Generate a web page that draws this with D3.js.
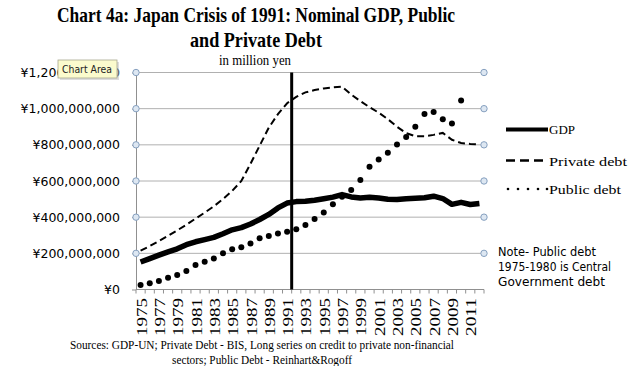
<!DOCTYPE html>
<html><head><meta charset="utf-8">
<script src="https://cdn.jsdelivr.net/npm/d3@7"></script>
<style>body{margin:0;background:#fff}svg{display:block}</style>
</head><body>
<svg id="c" width="641" height="366"></svg>
<script>
// ---- data (values in million yen) ----
const years = [1975,1976,1977,1978,1979,1980,1981,1982,1983,1984,1985,1986,1987,1988,1989,1990,1991,1992,1993,1994,1995,1996,1997,1998,1999,2000,2001,2002,2003,2004,2005,2006,2007,2008,2009,2010,2011,2012];
const gdp = [152e6,171e6,190e6,208e6,225e6,248e6,264e6,276e6,288e6,308e6,330e6,342e6,362e6,387e6,415e6,451e6,478e6,486e6,488e6,494e6,502e6,511e6,525e6,512e6,506e6,510e6,506e6,499e6,498e6,502e6,504e6,507e6,516e6,503e6,471e6,482e6,470e6,476e6];
const privateDebt = [215e6,240e6,268e6,297e6,327e6,358e6,392e6,425e6,460e6,500e6,545e6,600e6,695e6,795e6,895e6,970e6,1030e6,1065e6,1090e6,1103e6,1112e6,1118e6,1122e6,1078e6,1042e6,1008e6,978e6,942e6,900e6,865e6,848e6,848e6,855e6,866e6,828e6,810e6,805e6,802e6];
const publicDebt = [25e6,34e6,47e6,65e6,80e6,102e6,135e6,154e6,172e6,200e6,222e6,233e6,255e6,283e6,296e6,310e6,319e6,333e6,356e6,390e6,426e6,472e6,513e6,550e6,605e6,679e6,719e6,756e6,802e6,844e6,900e6,970e6,982e6,942e6,918e6,1045e6,null,null];
const yTicks = [0,200e6,400e6,600e6,800e6,1000e6,1200e6];
const xLabelYears = [1975,1977,1979,1981,1983,1985,1987,1989,1991,1993,1995,1997,1999,2001,2003,2005,2007,2009,2011];
const crisisYear = 1991;
const titleLines = ["Chart 4a: Japan Crisis of 1991: Nominal GDP, Public","and Private Debt"];
const subtitle = "in million yen";
const legendItems = ["GDP","Private debt","Public debt"];
const noteLines = ["Note- Public debt","1975-1980 is Central","Government debt"];
const sourceLines = ["Sources: GDP-UN; Private Debt - BIS, Long series on credit to private non-financial","sectors; Public Debt - Reinhart&Rogoff"];

// ---- layout ----
const L = 136, R = 484, T = 72.5, B = 289.5;
const svg = d3.select("#c");
const x = d3.scaleBand().domain(years).range([L, R]).paddingInner(0).paddingOuter(0);
const cx = yr => x(yr) + x.bandwidth() / 2;
const y = d3.scaleLinear().domain([0, 1200e6]).range([B, T]);
const serif = "'Liberation Serif','DejaVu Serif',serif";
const sans = "'DejaVu Sans','Noto Sans',sans-serif";

// title
svg.append("text").attr("x", 256).attr("y", 22).attr("text-anchor", "middle")
  .attr("font-family", serif).attr("font-weight", "bold").attr("font-size", 21)
  .attr("textLength", 398).attr("lengthAdjust", "spacingAndGlyphs").text(titleLines[0]);
svg.append("text").attr("x", 256).attr("y", 47).attr("text-anchor", "middle")
  .attr("font-family", serif).attr("font-weight", "bold").attr("font-size", 21)
  .attr("textLength", 132).attr("lengthAdjust", "spacingAndGlyphs").text(titleLines[1]);
svg.append("text").attr("x", 255).attr("y", 65).attr("text-anchor", "middle")
  .attr("font-family", serif).attr("font-size", 14)
  .attr("textLength", 72).attr("lengthAdjust", "spacingAndGlyphs").text(subtitle);

// gridlines
const gridVals = yTicks.filter(t => t > 0);
svg.append("g").selectAll("line").data(gridVals).join("line")
  .attr("x1", L).attr("x2", R).attr("y1", d => y(d)).attr("y2", d => y(d))
  .attr("stroke", "#b0b0b0").attr("stroke-width", 1);

// y axis
const yAxis = d3.axisLeft(y).tickValues(yTicks).tickSize(4).tickSizeOuter(0).tickPadding(12)
  .tickFormat(v => "¥" + d3.format(",")(v));
const gy = svg.append("g").attr("transform", `translate(${L},0)`).call(yAxis);
gy.select(".domain").attr("stroke", "#909090");
gy.selectAll(".tick line").attr("stroke", "#909090");
gy.selectAll(".tick text").attr("font-family", sans).attr("font-size", 12.5).attr("fill", "#000");

// x axis line and boundary ticks
svg.append("line").attr("x1", L).attr("x2", R).attr("y1", B).attr("y2", B).attr("stroke", "#909090");
const boundaries = years.map(yr => x(yr)).concat([R]);
svg.append("g").selectAll("line").data(boundaries).join("line")
  .attr("x1", d => d).attr("x2", d => d).attr("y1", B).attr("y2", B + 4)
  .attr("stroke", "#909090");
svg.append("g").selectAll("text").data(xLabelYears).join("text")
  .attr("transform", d => `translate(${cx(d) + 1},298) rotate(-90)`)
  .attr("text-anchor", "end").attr("dy", "0.35em")
  .attr("font-family", serif).attr("font-size", 14.5)
  .attr("textLength", 38).attr("lengthAdjust", "spacingAndGlyphs")
  .text(d => d);

// selection handles at gridline ends
const handles = [];
gridVals.forEach(v => { handles.push([L, y(v)]); handles.push([R, y(v)]); });
svg.append("g").selectAll("circle").data(handles).join("circle")
  .attr("cx", d => d[0]).attr("cy", d => d[1]).attr("r", 3.2)
  .attr("fill", "#dde7f2").attr("stroke", "#86a0bf").attr("stroke-width", 1);

// series
const line = d3.line().defined(d => d[1] != null).x(d => cx(d[0])).y(d => y(d[1]));
svg.append("path").datum(years.map((yr, i) => [yr, privateDebt[i]]))
  .attr("d", line).attr("fill", "none").attr("stroke", "#000")
  .attr("stroke-width", 2).attr("stroke-dasharray", "7,4");
svg.append("g").selectAll("circle").data(years.map((yr, i) => [yr, publicDebt[i]]).filter(d => d[1] != null))
  .join("circle").attr("cx", d => cx(d[0])).attr("cy", d => y(d[1])).attr("r", 3).attr("fill", "#000");
svg.append("path").datum(years.map((yr, i) => [yr, gdp[i]]))
  .attr("d", line).attr("fill", "none").attr("stroke", "#000")
  .attr("stroke-width", 5.5).attr("stroke-linejoin", "round");

// crisis line
const crisisX = x(crisisYear) + x.bandwidth();
svg.append("line").attr("x1", crisisX).attr("x2", crisisX).attr("y1", T).attr("y2", B)
  .attr("stroke", "#000").attr("stroke-width", 3);

// legend
const lg = svg.append("g");
lg.append("line").attr("x1", 506).attr("x2", 548).attr("y1", 129.5).attr("y2", 129.5)
  .attr("stroke", "#000").attr("stroke-width", 4);
lg.append("line").attr("x1", 506).attr("x2", 547).attr("y1", 160.5).attr("y2", 160.5)
  .attr("stroke", "#000").attr("stroke-width", 2.5).attr("stroke-dasharray", "9,5");
lg.append("g").selectAll("circle").data([508, 518, 528, 538, 547]).join("circle")
  .attr("cx", d => d).attr("cy", 189).attr("r", 1.3).attr("fill", "#000");
const legendY = [134, 165.5, 193.5];
const legendW = [26, 78, 72];
lg.selectAll("text").data(legendItems).join("text")
  .attr("x", 549).attr("y", (d, i) => legendY[i])
  .attr("font-family", serif).attr("font-size", 13.5)
  .attr("textLength", (d, i) => legendW[i]).attr("lengthAdjust", "spacingAndGlyphs")
  .text(d => d);

// note
const noteW = [98, 113, 107];
svg.append("g").selectAll("text").data(noteLines).join("text")
  .attr("x", 498).attr("y", (d, i) => 256 + i * 15)
  .attr("font-family", sans).attr("font-size", 12)
  .attr("textLength", (d, i) => noteW[i]).attr("lengthAdjust", "spacingAndGlyphs")
  .text(d => d);

// sources
const srcW = [384, 180];
svg.append("g").selectAll("text").data(sourceLines).join("text")
  .attr("x", 262).attr("y", (d, i) => 349 + i * 15).attr("text-anchor", "middle")
  .attr("font-family", serif).attr("font-size", 12.5)
  .attr("textLength", (d, i) => srcW[i]).attr("lengthAdjust", "spacingAndGlyphs")
  .text(d => d);

// "Chart Area" tooltip overlay
const tip = svg.append("g");
tip.append("rect").attr("x", 60).attr("y", 62).attr("width", 59).attr("height", 18)
  .attr("fill", "#bbb").attr("opacity", 0.5);
tip.append("rect").attr("x", 58).attr("y", 60).attr("width", 59).attr("height", 18)
  .attr("fill", "#fbfbcd").attr("stroke", "#a8a890").attr("stroke-width", 0.8);
tip.append("text").attr("x", 62).attr("y", 73).attr("font-family", sans).attr("font-size", 10.5)
  .attr("textLength", 50).attr("lengthAdjust", "spacingAndGlyphs").attr("fill", "#222").text("Chart Area");
</script>
</body></html>
